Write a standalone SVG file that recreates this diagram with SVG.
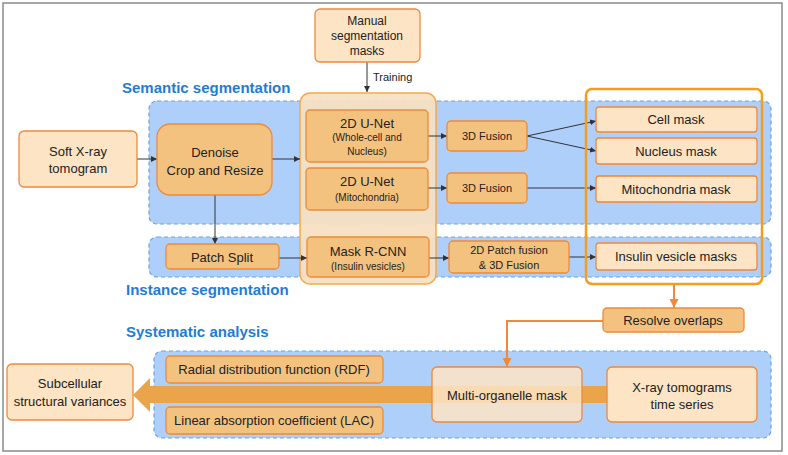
<svg xmlns="http://www.w3.org/2000/svg" width="788" height="455" viewBox="0 0 788 455">
<defs>
<marker id="ab" viewBox="0 0 10 10" refX="10" refY="5" markerWidth="6" markerHeight="6" markerUnits="userSpaceOnUse" orient="auto"><path d="M0,0 L10,5 L0,10 z" fill="#333"/></marker>
<marker id="ao" viewBox="0 0 10 10" refX="10" refY="5" markerWidth="9" markerHeight="9" markerUnits="userSpaceOnUse" orient="auto"><path d="M0,0 L10,5 L0,10 z" fill="#ef8a3d"/></marker>
<style>
text{font-family:"Liberation Sans",Arial,sans-serif;fill:#222;text-anchor:middle;dominant-baseline:central}
.t13{font-size:13px}.t11{font-size:11px}.t10{font-size:10px}.t12{font-size:12px}
.title{font-size:15px;font-weight:bold;fill:#1f7dd3;text-anchor:start}
.region{fill:#afcffb;stroke:#6aa3e0;stroke-width:1.2;stroke-dasharray:4 3}
.lt{fill:#fce4c5;stroke:#f0883a;stroke-width:1.3}
.dk{fill:#f4c27f;stroke:#ee8a3a;stroke-width:1.3}
.bl{stroke:#333;stroke-width:1;fill:none}
.or{stroke:#ef8a3d;stroke-width:2;fill:none}
</style>
</defs>
<rect x="3" y="3" width="779" height="448" fill="#fff" stroke="#8a8a8a" stroke-width="1.5"/>

<g id="regions">
<rect class="region" x="149" y="101" width="622" height="123" rx="8"/>
<rect class="region" x="149" y="237" width="622" height="40" rx="8"/>
<rect class="region" x="154" y="351" width="617" height="87" rx="8"/>
</g>

<g id="titles">
<text class="title" x="122" y="87">Semantic segmentation</text>
<text class="title" x="126" y="289">Instance segmentation</text>
<text class="title" x="126" y="331">Systematic analysis</text>
</g>

<g id="model-column">
<rect x="300" y="93" width="136" height="191" rx="10" fill="#f6e0c2" fill-opacity="0.93" stroke="#f5a94a" stroke-width="1.5"/>
</g>

<g id="big-arrow">
<polygon points="607,386 150,386 150,378 133,395 150,412 150,403 607,403" fill="#eaa54a"/>
</g>

<g id="connectors">
<line class="bl" x1="367" y1="62" x2="367" y2="92" marker-end="url(#ab)"/>
<text class="t11" x="373" y="77" style="text-anchor:start">Training</text>
<line class="bl" x1="137" y1="159" x2="157" y2="159" marker-end="url(#ab)"/>
<line class="bl" x1="272" y1="159" x2="300" y2="159" marker-end="url(#ab)"/>
<line class="bl" x1="215" y1="195" x2="215" y2="244" marker-end="url(#ab)"/>
<line class="bl" x1="279" y1="258" x2="307" y2="258" marker-end="url(#ab)"/>
<line class="bl" x1="428" y1="136" x2="447" y2="136" marker-end="url(#ab)"/>
<line class="bl" x1="428" y1="188" x2="447" y2="188" marker-end="url(#ab)"/>
<line class="bl" x1="527" y1="136" x2="596" y2="121" marker-end="url(#ab)"/>
<line class="bl" x1="527" y1="136" x2="596" y2="151" marker-end="url(#ab)"/>
<line class="bl" x1="527" y1="188" x2="596" y2="188" marker-end="url(#ab)"/>
<line class="bl" x1="429" y1="258" x2="449" y2="258" marker-end="url(#ab)"/>
<line class="bl" x1="569" y1="257" x2="596" y2="257" marker-end="url(#ab)"/>
<line class="or" x1="674" y1="285" x2="674" y2="308" marker-end="url(#ao)"/>
<polyline class="or" points="603,321 507,321 507,367" marker-end="url(#ao)"/>
</g>

<g id="manual-masks">
<rect class="lt" x="315" y="9" width="105" height="53" rx="5"/>
<text class="t12" x="367" y="21">Manual</text>
<text class="t12" x="367" y="36">segmentation</text>
<text class="t12" x="367" y="51">masks</text>
</g>

<g id="soft-xray">
<rect class="lt" x="19" y="131" width="118" height="56" rx="5"/>
<text class="t13" x="78" y="151">Soft X-ray</text>
<text class="t13" x="78" y="168">tomogram</text>
</g>

<g id="denoise">
<rect class="dk" x="157" y="124" width="115" height="71" rx="13"/>
<text class="t13" x="215" y="152">Denoise</text>
<text class="t13" x="215" y="170">Crop and Resize</text>
</g>

<g id="patch-split">
<rect class="dk" x="166" y="244" width="113" height="25" rx="4"/>
<text class="t13" x="222" y="257">Patch Split</text>
</g>

<g id="unet-cell">
<rect class="dk" x="306" y="110" width="122" height="52" rx="4"/>
<text class="t13" x="367" y="123">2D U-Net</text>
<text class="t10" x="367" y="137">(Whole-cell and</text>
<text class="t10" x="367" y="151">Nucleus)</text>
</g>

<g id="unet-mito">
<rect class="dk" x="306" y="168" width="122" height="42" rx="4"/>
<text class="t13" x="367" y="181">2D U-Net</text>
<text class="t10" x="367" y="197">(Mitochondria)</text>
</g>

<g id="mask-rcnn">
<rect class="dk" x="307" y="237" width="122" height="40" rx="4"/>
<text class="t13" x="368" y="251">Mask R-CNN</text>
<text class="t10" x="368" y="266">(Insulin vesicles)</text>
</g>

<g id="fusion1">
<rect class="dk" x="447" y="121" width="80" height="30" rx="4"/>
<text class="t11" x="487" y="136">3D Fusion</text>
</g>

<g id="fusion2">
<rect class="dk" x="447" y="173" width="80" height="30" rx="4"/>
<text class="t11" x="487" y="188">3D Fusion</text>
</g>

<g id="patch-fusion">
<rect class="dk" x="449" y="241" width="120" height="32" rx="4"/>
<text class="t11" x="509" y="250">2D Patch fusion</text>
<text class="t11" x="509" y="265">&amp; 3D Fusion</text>
</g>

<g id="cell-mask">
<rect class="lt" x="596" y="107" width="161" height="25" rx="3"/>
<text class="t13" x="676" y="119">Cell mask</text>
</g>
<g id="nucleus-mask">
<rect class="lt" x="596" y="138" width="161" height="26" rx="3"/>
<text class="t13" x="676" y="151">Nucleus mask</text>
</g>
<g id="mito-mask">
<rect class="lt" x="596" y="176" width="161" height="26" rx="3"/>
<text class="t13" x="676" y="189">Mitochondria mask</text>
</g>
<g id="insulin-mask">
<rect class="lt" x="596" y="243" width="161" height="27" rx="3"/>
<text class="t13" x="676" y="256">Insulin vesicle masks</text>
</g>

<g id="masks-frame">
<rect x="586" y="89" width="176" height="195" rx="6" fill="none" stroke="#f59d1f" stroke-width="2.5"/>
</g>

<g id="resolve">
<rect class="dk" x="603" y="308" width="141" height="24" rx="4"/>
<text class="t13" x="673" y="320">Resolve overlaps</text>
</g>

<g id="rdf">
<rect class="dk" x="166" y="356" width="217" height="27" rx="4"/>
<text class="t13" x="274" y="369">Radial distribution function (RDF)</text>
</g>
<g id="lac">
<rect class="dk" x="166" y="407" width="217" height="27" rx="4"/>
<text class="t13" x="274" y="420">Linear absorption coefficient (LAC)</text>
</g>

<g id="subcellular">
<rect class="lt" x="7" y="364" width="126" height="56" rx="5"/>
<text class="t13" x="70" y="383">Subcellular</text>
<text class="t13" x="70" y="401">structural variances</text>
</g>

<g id="multi-organelle">
<rect x="432" y="367" width="150" height="55" rx="5" fill="#fce4c5" fill-opacity="0.86" stroke="#f0883a" stroke-width="1.3"/>
<text class="t13" x="507" y="395">Multi-organelle mask</text>
</g>

<g id="xray-series">
<rect class="lt" x="607" y="367" width="150" height="55" rx="5"/>
<text class="t13" x="682" y="387">X-ray tomograms</text>
<text class="t13" x="682" y="404">time series</text>
</g>
</svg>
